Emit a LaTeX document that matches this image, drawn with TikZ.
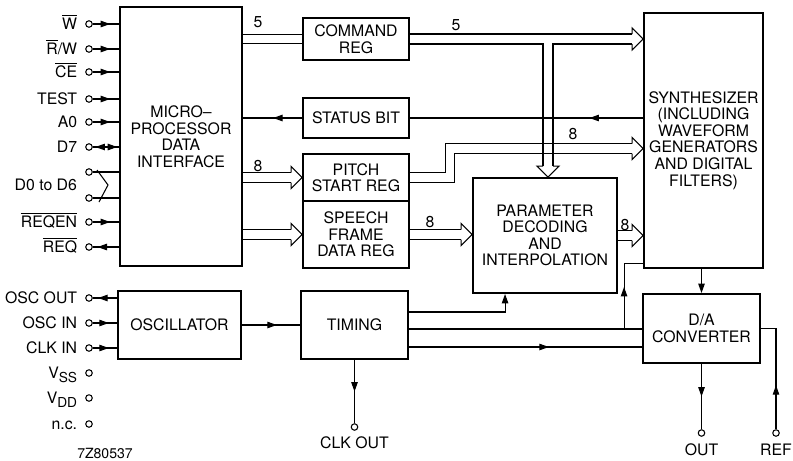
\documentclass[tikz,border=0pt]{standalone}
\usepackage{fontspec}
\setmainfont{TeX Gyre Heros}
\usetikzlibrary{positioning,arrows.meta,calc,backgrounds,decorations.markings}
\tikzset{
  >={Triangle[length=1.9mm,width=1.3mm]},
  fig/.style={font=\fontsize{9}{9.4}\selectfont},
  blk/.style={draw,line width=1.1pt,align=center,inner sep=1pt},
  pinc/.style={circle,draw,line width=0.6pt,inner sep=0pt,minimum size=1.3mm},
  pinlbl/.style={inner sep=1pt,text height=6.4pt,text depth=0pt},
  sig/.style={line width=0.6pt},
  endarr/.style={-{Triangle[length=1.9mm,width=1.3mm]}},
  midarr/.style={postaction={decorate},decoration={markings,
      mark=at position #1 with {\arrow{>}}}},
  bus/.style={sig,double,double distance=1.75mm},
  busr/.pic={\draw[sig] (-11,-5) -- (-11,-11) -- (0,0) -- (-11,11) -- (-11,5);},
  busd/.pic={\draw[sig] (-5,-11) -- (-11,-11) -- (0,0) -- (11,-11) -- (5,-11);},
  num/.style={inner sep=0pt},
}

\begin{document}
\begin{tikzpicture}[fig,x=0.02cm,y=-0.02cm,
  d7arr/.style={postaction={decorate},decoration={markings,
      mark=at position 0.1 with {\arrowreversed{>}},
      mark=at position 0.93 with {\arrow{>}}}}]
\useasboundingbox (0,0) rectangle (793,460);

% blocks
\node[blk,minimum width=2.44cm,minimum height=5.18cm] (mpu) at (181,136.5)
     {MICRO--\\PROCESSOR\\DATA\\INTERFACE};
\node[blk,minimum width=2.12cm,minimum height=0.84cm] (cmd) at (356,39) {COMMAND\\REG};
\node[blk,minimum width=2.12cm,minimum height=0.8cm] (status) at (356,118) {STATUS BIT};
\node[blk,minimum width=2.12cm,minimum height=0.94cm] (pitch) at (356,177.5) {PITCH\\START REG};
\node[blk,minimum width=2.12cm,minimum height=1.34cm] (speech) at (356,234.5)
     {SPEECH\\FRAME\\DATA REG};
\node[blk,minimum width=2.88cm,minimum height=2.3cm] (param) at (545,235.5)
     {PARAMETER\\DECODING\\AND\\INTERPOLATION};
\node[blk,minimum width=2.38cm,minimum height=5.1cm] (synth) at (703.5,140.5)
     {SYNTHESIZER\\(INCLUDING\\WAVEFORM\\GENERATORS\\AND DIGITAL\\FILTERS)};
\node[blk,minimum width=2.46cm,minimum height=1.36cm] (osc) at (179.5,325) {OSCILLATOR};
\node[blk,minimum width=2.14cm,minimum height=1.36cm] (timing) at (354.5,325) {TIMING};
\node[blk,minimum width=2.34cm,minimum height=1.38cm] (dac) at (701.5,328.5) {D/A\\CONVERTER};

% pins of the processor interface
\node[pinc] (pw) at (89,24) {};
\node[pinc] (prw) at (89,49) {};
\node[pinc] (pce) at (89,72) {};
\node[pinc] (ptest) at (89,99) {};
\node[pinc] (pa0) at (89,122) {};
\node[pinc] (pd7) at (89,147) {};
\node[pinc] (pd0) at (89,172) {};
\node[pinc] (pd6) at (89,198) {};
\node[pinc] (preqen) at (89,222) {};
\node[pinc] (preq) at (89,247) {};
\node[pinlbl,left=1.2mm of pw] {$\overline{\hbox{W}}$};
\node[pinlbl,left=1.2mm of prw] {$\overline{\hbox{R}}$/W};
\node[pinlbl,left=1.2mm of pce] {$\overline{\hbox{CE}}$};
\node[pinlbl,left=1.2mm of ptest] {TEST};
\node[pinlbl,left=1.2mm of pa0] {A0};
\node[pinlbl,left=1.2mm of pd7] {D7};
\node[pinlbl,anchor=east] at ($(pd0)!0.5!(pd6)+(-10,0)$) {D0 to D6};
\node[pinlbl,left=1.2mm of preqen] {$\overline{\hbox{REQEN}}$};
\node[pinlbl,left=1.2mm of preq] {$\overline{\hbox{REQ}}$};

\draw[sig,midarr=0.66] (pw) -- (pw -| mpu.west);
\draw[sig,midarr=0.66] (prw) -- (prw -| mpu.west);
\draw[sig,midarr=0.66] (pce) -- (pce -| mpu.west);
\draw[sig,midarr=0.66] (ptest) -- (ptest -| mpu.west);
\draw[sig,midarr=0.66] (pa0) -- (pa0 -| mpu.west);
\draw[sig,d7arr] (pd7) -- (pd7 -| mpu.west);
\draw[sig] (pd0) -- (pd0 -| mpu.west);
\draw[sig] (pd6) -- (pd6 -| mpu.west);
\draw[sig] ($(pd0)+(8,-2)$) -- ($(pd0)!0.5!(pd6)+(19,0)$) -- ($(pd6)+(10,4)$);
\draw[sig,midarr=0.66] (preqen) -- (preqen -| mpu.west);
\draw[sig,midarr=0.82] (preq -| mpu.west) -- (preq);

% pins of the clock part
\node[pinc] (poscout) at (89,298) {};
\node[pinc] (poscin) at (89,323) {};
\node[pinc] (pclkin) at (89,348) {};
\node[pinc] (pvss) at (89,373) {};
\node[pinc] (pvdd) at (89,398) {};
\node[pinc] (pnc) at (89,424) {};
\node[pinlbl,left=1.2mm of poscout] {OSC OUT};
\node[pinlbl,left=1.2mm of poscin] {OSC IN};
\node[pinlbl,left=1.2mm of pclkin] {CLK IN};
\node[pinlbl,left=1.2mm of pvss] {V\raisebox{-0.45ex}{\fontsize{7.8}{8}\selectfont SS}};
\node[pinlbl,left=1.2mm of pvdd] {V\raisebox{-0.45ex}{\fontsize{7.8}{8}\selectfont DD}};
\node[pinlbl,left=1.2mm of pnc] {n.c.};

\draw[sig,midarr=0.78] (poscout -| osc.west) -- (poscout);
\draw[sig,midarr=0.66] (poscin) -- (poscin -| osc.west);
\draw[sig,midarr=0.66] (pclkin) -- (pclkin -| osc.west);

% buses
\begin{scope}[on background layer]
\draw[bus] (mpu.east |- cmd.west) -- (cmd.west);
\draw[bus] (mpu.east |- pitch.west) -- ($(pitch.west)+(-11,0)$);
\pic at (pitch.west) {busr};
\draw[bus] (mpu.east |- speech.west) -- ($(speech.west)+(-11,0)$);
\pic at (speech.west) {busr};
\draw[bus] (speech.east) -- ($(speech.east -| param.west)+(-11,0)$);
\pic at (speech.east -| param.west) {busr};
\draw[bus] (param.east) -- ($(param.east -| synth.west)+(-11,0)$);
\pic at (param.east -| synth.west) {busr};

\coordinate (pbend) at ($(pitch.east)+(40,-29)$);
\draw[bus] (pitch.east) -| (pbend) -- ($(pbend -| synth.west)+(-11,0)$);
\pic at (pbend -| synth.west) {busr};

\coordinate (ctip) at ($(param.north)+(3,0)$);
\draw[sig] ($(cmd.east)+(0,-5)$) -- ($(cmd.east -| synth.west)+(-11,-5)$);
\draw[sig] ($(cmd.east)+(0,5)$) -| ($(ctip)+(-5,-11)$);
\draw[sig] ($(ctip)+(5,-11)$) |- ($(cmd.east -| synth.west)+(-11,5)$);
\pic at (ctip) {busd};
\pic at (cmd.east -| synth.west) {busr};
\end{scope}

\node[num] at (258,22) {5};
\node[num] at (456,25) {5};
\node[num] at (258,166) {8};
\node[num] at (573,134) {8};
\node[num] at (430,222) {8};
\node[num] at (625,225) {8};

% status
\draw[sig,midarr=0.23] (status.east -| synth.west) -- (status.east);
\draw[sig,midarr=0.49] (status.west) -- (status.west -| mpu.east);

% clock and converter
\draw[sig,midarr=0.6] (osc.east) -- (timing.west);
\draw[sig,endarr] ($(timing.east)+(0,-13)$) -| ($(param.south west)+(33,0)$);
\coordinate (t1) at ($(timing.east)+(0,4)$);
\coordinate (t2) at ($(timing.east)+(0,22)$);
\draw[sig] (t1) -- (t1 -| dac.west);
\coordinate (br) at ($(t1 -| dac.west)+(-18,0)$);
\draw[sig,midarr=0.5] (br) |- ($(synth.south west)+(0,-5)$);
\draw[sig,midarr=0.6] (t2) -- (t2 -| dac.west);
\draw[sig,endarr] (synth.south -| dac.north) -- (dac.north);

\node[pinc] (pclkout) at (354.5,427) {};
\node[pinc] (pout) at (701.5,433) {};
\node[pinc] (pref) at (776,433) {};
\draw[sig,midarr=0.5] (timing.south) -- (pclkout);
\draw[sig,midarr=0.5] (dac.south) -- (pout);
\draw[sig,midarr=0.38] (pref) |- (dac.east);
\node[pinlbl,below=0.9mm of pclkout] {CLK OUT};
\node[pinlbl,below=1mm of pout] {OUT};
\node[pinlbl,below=1mm of pref] {REF};

\node[font=\fontsize{8}{9}\selectfont] at (105,453) {7Z80537};

\end{tikzpicture}
\end{document}
